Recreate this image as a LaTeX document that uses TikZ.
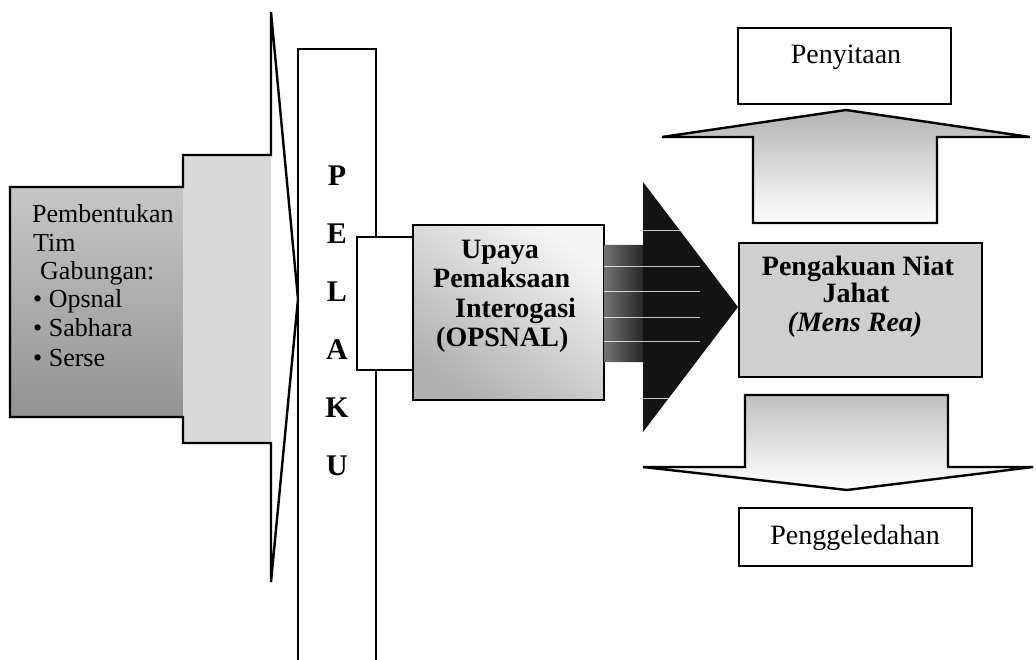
\documentclass[tikz,border=0pt]{standalone}
\usepackage{fontspec}
\setmainfont{Liberation Serif}
\usetikzlibrary{calc}

\begin{document}
\begin{tikzpicture}[x=1pt, y=-1pt, line join=miter,
  outline/.style={draw=black, line width=2.4pt},
  plainbox/.style={draw=black, line width=1.8pt, rectangle, inner sep=0pt, fill=white},
  lefttext/.style={anchor=base west, inner sep=0pt, font=\fontsize{26}{29}\selectfont},
  boldtext/.style={inner sep=0pt, font=\fontsize{28}{31}\selectfont\bfseries},
  pelakutext/.style={inner sep=0pt, font=\fontsize{30}{34}\selectfont\bfseries},
]
\useasboundingbox (0,0) rectangle (1036,660);

% ---- block arrow: forming the joint team ----
\shade[top color=gray!45, middle color=gray!55, bottom color=gray!85] (10,187) rectangle (183,417);
\fill[gray!30] (183,155) rectangle (271,443);
\draw[outline] (10,187) -- (183,187) -- (183,155) -- (271,155) -- (271,12)
  -- (298,299) -- (271,582) -- (271,443) -- (183,443) -- (183,417) -- (10,417) -- cycle;

\node[lefttext] (t1) at (32,223) {Pembentukan};
\node[lefttext] (t2) at (33,252) {Tim};
\node[lefttext] (t3) at (40,280) {Gabungan:};
\node[lefttext] (t4) at (33,308) {• Opsnal};
\node[lefttext] (t5) at (33,337) {• Sabhara};
\node[lefttext] (t6) at (33,366) {• Serse};

% ---- the suspect column ----
\draw[line width=2pt] (298,670) -- (298,49) -- (376,49) -- (376,670);
\node[pelakutext] (pP) at (337,176) {P};
\node[pelakutext] (pE) at (337,234) {E};
\node[pelakutext] (pL) at (337,292) {L};
\node[pelakutext] (pA) at (337,350) {A};
\node[pelakutext] (pK) at (337,408) {K};
\node[pelakutext] (pU) at (337,466) {U};

% link box between column and interrogation box
\draw[line width=1.8pt, fill=white] (357,237) rectangle (413,370);

% ---- interrogation box ----
\shade[shading=axis, top color=gray!8, bottom color=gray!62, shading angle=-35]
  (413,225) rectangle (604,400);
\draw[line width=2pt] (413,225) rectangle (604,400);
\node[boldtext, anchor=base west] (u1) at (461,259) {Upaya};
\node[boldtext, anchor=base west] (u2) at (433,288) {Pemaksaan};
\node[boldtext, anchor=base west] (u3) at (455,317) {Interogasi};
\node[boldtext, anchor=base west] (u4) at (436,346) {(OPSNAL)};

% ---- dark block arrow ----
\begin{scope}
  \path[clip] (604,245) -- (643,245) -- (643,182) -- (738,307) -- (643,432)
    -- (643,362) -- (604,362) -- cycle;
  \shade[left color=black!55, right color=black!85] (604,245) rectangle (643,362);
  \fill[black!92] (643,182) rectangle (740,432);
  \foreach \yy in {230,266,291,317,341,398}
    \draw[white, opacity=0.75, line width=0.8pt] (604,\yy) -- (700,\yy);
\end{scope}

% ---- confession box ----
\node[draw=black, line width=2pt, fill=gray!38, rectangle, inner sep=0pt,
  minimum width=243pt, minimum height=134pt] (conf) at (860.5,310) {};
\node[boldtext, anchor=base] (c1) at (858,276) {Pengakuan Niat};
\node[boldtext, anchor=base] (c2) at (856,303) {Jahat};
\node[boldtext, anchor=base] (c3) at (855,331) {\itshape(Mens Rea)};

% ---- upward block arrow ----
\shade[top color=gray!60, bottom color=white]
  (753,223) -- (753,137) -- (662,137) -- (846,110) -- (1030,137) -- (937,137) -- (937,223) -- cycle;
\draw[outline] (753,223) -- (753,137) -- (662,137) -- (846,110) -- (1030,137) -- (937,137) -- (937,223) -- cycle;

% ---- downward block arrow ----
\shade[top color=gray!50, bottom color=white]
  (745,395) -- (948,395) -- (948,467) -- (1033,467) -- (847,490) -- (643,467) -- (745,467) -- cycle;
\draw[outline] (745,395) -- (948,395) -- (948,467) -- (1033,467) -- (847,490) -- (643,467) -- (745,467) -- cycle;

% ---- outcome boxes ----
\node[plainbox, minimum width=213pt, minimum height=76pt] (sita) at (844.5,66) {};
\node[inner sep=0pt, font=\fontsize{28}{32}\selectfont] (sitatext) at (846,57) {Penyitaan};

\node[plainbox, minimum width=233pt, minimum height=58pt] (geledah) at (855.5,537) {};
\node[inner sep=0pt, font=\fontsize{28}{32}\selectfont] (geledahtext) at (855,538) {Penggeledahan};

\end{tikzpicture}
\end{document}
